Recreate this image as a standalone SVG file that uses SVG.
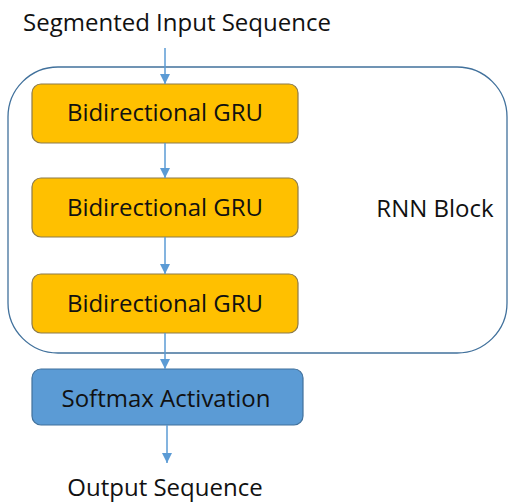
<svg xmlns="http://www.w3.org/2000/svg" width="508" height="502" viewBox="0 0 508 502">
  <style>
    text { font-family: "Open Sans", "Liberation Sans", sans-serif; fill: #111; text-anchor: middle; }
    .lbl { font-size: 24px; }
    .gru rect { fill: #FFC000; stroke: #8B7A4A; stroke-width: 1.2; }
    .soft rect { fill: #5B9BD5; stroke: #41719C; stroke-width: 1.2; }
    .edge { stroke: #5B9BD5; stroke-width: 1.5; fill: none; marker-end: url(#arr); }
  </style>
  <defs>
    <marker id="arr" viewBox="0 0 10 10" refX="10" refY="5" markerWidth="10" markerHeight="10" markerUnits="userSpaceOnUse" orient="auto">
      <path d="M0,0 L10,5 L0,10 z" fill="#5B9BD5"/>
    </marker>
  </defs>

  <text class="lbl" x="177" y="31">Segmented Input Sequence</text>

  <g id="rnn-block">
    <rect x="8" y="67" width="499" height="286" rx="50" ry="50" fill="none" stroke="#41719C" stroke-width="1.3"/>
    <text class="lbl" x="435" y="217">RNN Block</text>
  </g>

  <g id="gru1" class="gru">
    <rect x="32" y="84" width="266" height="59" rx="9"/>
    <text class="lbl" x="165" y="121">Bidirectional GRU</text>
  </g>
  <g id="gru2" class="gru">
    <rect x="32" y="178" width="266" height="59" rx="9"/>
    <text class="lbl" x="165" y="216">Bidirectional GRU</text>
  </g>
  <g id="gru3" class="gru">
    <rect x="32" y="274" width="266" height="59" rx="9"/>
    <text class="lbl" x="165" y="312">Bidirectional GRU</text>
  </g>
  <g id="softmax" class="soft">
    <rect x="32" y="369" width="271" height="56" rx="9"/>
    <text class="lbl" x="166" y="407">Softmax Activation</text>
  </g>

  <text class="lbl" x="165" y="496">Output Sequence</text>

  <g id="connectors">
    <line class="edge" x1="165" y1="48" x2="165" y2="84"/>
    <line class="edge" x1="165" y1="143" x2="165" y2="178"/>
    <line class="edge" x1="165" y1="237" x2="165" y2="274"/>
    <line class="edge" x1="165" y1="333" x2="165" y2="369"/>
    <line class="edge" x1="167" y1="425" x2="167" y2="463"/>
  </g>
</svg>
